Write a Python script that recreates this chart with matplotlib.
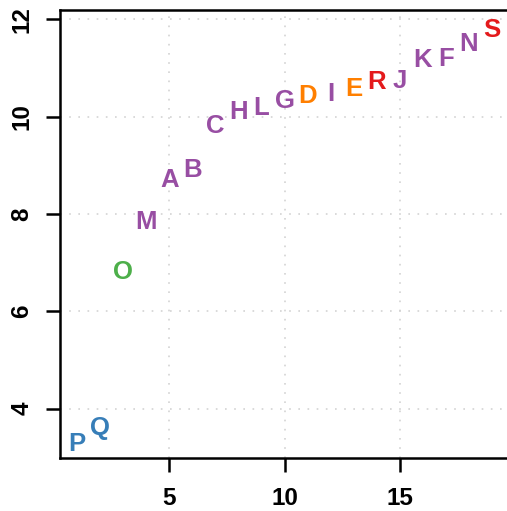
import matplotlib.pyplot as plt
from matplotlib.transforms import offset_copy

labels = ['P', 'Q', 'O', 'M', 'A', 'B', 'C', 'H', 'L', 'G',
          'D', 'I', 'E', 'R', 'J', 'K', 'F', 'N', 'S']
x_vals = list(range(1, 20))
y_vals = [3.32, 3.65, 6.86, 7.87, 8.74, 8.95, 9.84, 10.14, 10.21, 10.37,
          10.47, 10.51, 10.62, 10.75, 10.78, 11.20, 11.22, 11.53, 11.83]
groups = ['blue', 'blue', 'green', 'purple', 'purple', 'purple', 'purple', 'purple',
          'purple', 'purple', 'orange', 'purple', 'orange', 'red', 'purple',
          'purple', 'purple', 'purple', 'red']
palette = {'blue': '#377EB8', 'green': '#4DAF4A', 'purple': '#984EA3',
           'orange': '#FF7F00', 'red': '#E41A1C'}

plt.rcParams['font.family'] = ['Liberation Sans', 'DejaVu Sans']
plt.rcParams['font.weight'] = 'bold'

fig = plt.figure(figsize=(5.07, 5.11), dpi=100)
ax = fig.add_axes([60 / 507, 53 / 511, 1.0, 448 / 511])

ax.set_xlim(0.25, 19.66 + (19.66 - 0.25) * (1.0 * 507 - 447) / 447)
ax.set_ylim(2.987, 12.19)

ax.set_xticks([5, 10, 15])
ax.set_yticks([4, 6, 8, 10, 12])
ax.grid(True, color='#D3D3D3', linestyle=(0, (1, 4.5)), linewidth=1.2)
ax.set_axisbelow(True)

# nudge letters down a touch so the glyph centre sits on the point
shifted = offset_copy(ax.transData, fig=fig, x=0, y=-1.5, units='points')
for lab, xv, yv, g in zip(labels, x_vals, y_vals, groups):
    ax.text(xv, yv, lab, color=palette[g], fontsize=18.5, fontweight='bold',
            ha='center', va='center', transform=shifted)

for side in ['left', 'top', 'bottom']:
    ax.spines[side].set_linewidth(1.8)
ax.spines['right'].set_visible(False)

ax.tick_params(axis='both', length=10, width=1.8, labelsize=17.5, pad=11)
ax.tick_params(axis='y', pad=9)
for t in ax.get_yticklabels():
    t.set_rotation(90)
    t.set_va('center')

fig.savefig('out.png', dpi=100)
